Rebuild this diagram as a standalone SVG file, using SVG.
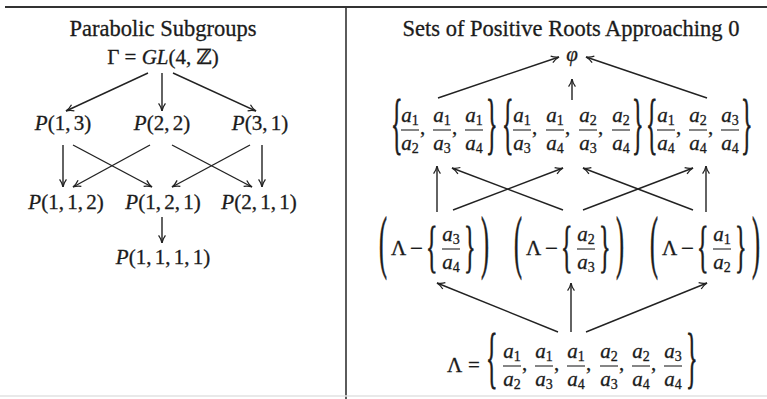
<svg xmlns="http://www.w3.org/2000/svg" width="767" height="399" viewBox="0 0 767 399">
<style>
text{font-family:"Liberation Serif","DejaVu Serif",serif;fill:#1b1b1b;font-size:21px;stroke:#1b1b1b;stroke-width:0.3}
.ttl{font-size:22.5px;text-anchor:middle}
.c{text-anchor:middle}
.m{word-spacing:-2px}
.i{font-style:italic}
.s{font-size:14px;font-style:normal}
.br{font-size:24px}
.mn{font-size:23px}
.fr line{stroke:#222;stroke-width:1.1}
.fr text{text-anchor:middle}
.edge{stroke:#222;stroke-width:1.4;fill:none;marker-end:url(#ah)}
.rule{stroke:#333;fill:none}
</style>
<defs>
<marker id="ah" markerUnits="userSpaceOnUse" viewBox="0 0 10 10" refX="9.5" refY="5" markerWidth="9" markerHeight="9" orient="auto">
<path d="M1,1.2 Q5,4.2 9.5,5 Q5,5.8 1,8.8" fill="none" stroke="#222" stroke-width="1.4"/>
</marker>
</defs>
<rect width="767" height="399" fill="#fff"/>
<g id="frame">
<line class="rule" x1="5" y1="7" x2="767" y2="7" stroke-width="2"/>
<line class="rule" x1="346" y1="7" x2="346" y2="399" stroke-width="1.6"/>
<line x1="0" y1="396" x2="767" y2="396" stroke="#e2e2e2" stroke-width="1.5"/>
</g>
<g id="titles">
<text class="ttl" x="163" y="36">Parabolic Subgroups</text>
<text class="ttl" x="571" y="36">Sets of Positive Roots Approaching 0</text>
</g>
<g id="connectors">
<line class="edge" x1="148" y1="73" x2="66" y2="111"/>
<line class="edge" x1="162" y1="73" x2="162" y2="111"/>
<line class="edge" x1="173" y1="73" x2="256" y2="111"/>
<line class="edge" x1="63" y1="145" x2="63" y2="187"/>
<line class="edge" x1="73" y1="145" x2="152" y2="187"/>
<line class="edge" x1="150" y1="145" x2="73" y2="187"/>
<line class="edge" x1="172" y1="145" x2="252" y2="187"/>
<line class="edge" x1="250" y1="145" x2="172" y2="187"/>
<line class="edge" x1="262" y1="145" x2="262" y2="187"/>
<line class="edge" x1="162" y1="217" x2="162" y2="243"/>
<line class="edge" x1="438" y1="98" x2="559" y2="57"/>
<line class="edge" x1="572" y1="100" x2="572" y2="79"/>
<line class="edge" x1="707" y1="98" x2="586" y2="57"/>
<line class="edge" x1="437" y1="212" x2="437" y2="166"/>
<line class="edge" x1="453" y1="210" x2="563" y2="168"/>
<line class="edge" x1="563" y1="210" x2="452" y2="168"/>
<line class="edge" x1="583" y1="210" x2="693" y2="168"/>
<line class="edge" x1="693" y1="210" x2="583" y2="168"/>
<line class="edge" x1="706" y1="212" x2="706" y2="166"/>
<line class="edge" x1="558" y1="332" x2="437" y2="283"/>
<line class="edge" x1="571" y1="332" x2="571" y2="283"/>
<line class="edge" x1="586" y1="332" x2="707" y2="283"/>
</g>
<g id="gamma"><text class="c" x="163" y="64">Γ = <tspan class="i">GL</tspan>(4, ℤ)</text></g>
<g id="p13"><text class="c m" x="63" y="130"><tspan class="i">P</tspan>(1, 3)</text></g>
<g id="p22"><text class="c m" x="162" y="130"><tspan class="i">P</tspan>(2, 2)</text></g>
<g id="p31"><text class="c m" x="260" y="130"><tspan class="i">P</tspan>(3, 1)</text></g>
<g id="p112"><text class="c m" x="66" y="209"><tspan class="i">P</tspan>(1, 1, 2)</text></g>
<g id="p121"><text class="c m" x="163" y="209"><tspan class="i">P</tspan>(1, 2, 1)</text></g>
<g id="p211"><text class="c m" x="259" y="209"><tspan class="i">P</tspan>(2, 1, 1)</text></g>
<g id="p1111"><text class="c m" x="163" y="264"><tspan class="i">P</tspan>(1, 1, 1, 1)</text></g>

<g id="phi"><text class="c i" x="572" y="61">φ</text></g>

<g id="set1">
<text class="br" transform="translate(391,146) scale(1,2.8)">{</text>
<g class="fr" transform="translate(410,130)"><line x1="-9" x2="9" y1="0" y2="0"/><text y="-8"><tspan class="i">a</tspan><tspan class="s" dy="3">1</tspan></text><text y="20"><tspan class="i">a</tspan><tspan class="s" dy="3">2</tspan></text></g>
<text x="420" y="134">,</text>
<g class="fr" transform="translate(442,130)"><line x1="-9" x2="9" y1="0" y2="0"/><text y="-8"><tspan class="i">a</tspan><tspan class="s" dy="3">1</tspan></text><text y="20"><tspan class="i">a</tspan><tspan class="s" dy="3">3</tspan></text></g>
<text x="452" y="134">,</text>
<g class="fr" transform="translate(474,130)"><line x1="-9" x2="9" y1="0" y2="0"/><text y="-8"><tspan class="i">a</tspan><tspan class="s" dy="3">1</tspan></text><text y="20"><tspan class="i">a</tspan><tspan class="s" dy="3">4</tspan></text></g>
<text class="br" transform="translate(486,146) scale(1,2.8)">}</text>
</g>

<g id="set2">
<text class="br" transform="translate(502,146) scale(1,2.8)">{</text>
<g class="fr" transform="translate(522,130)"><line x1="-9" x2="9" y1="0" y2="0"/><text y="-8"><tspan class="i">a</tspan><tspan class="s" dy="3">1</tspan></text><text y="20"><tspan class="i">a</tspan><tspan class="s" dy="3">3</tspan></text></g>
<text x="532" y="134">,</text>
<g class="fr" transform="translate(555,130)"><line x1="-9" x2="9" y1="0" y2="0"/><text y="-8"><tspan class="i">a</tspan><tspan class="s" dy="3">1</tspan></text><text y="20"><tspan class="i">a</tspan><tspan class="s" dy="3">4</tspan></text></g>
<text x="565" y="134">,</text>
<g class="fr" transform="translate(588,130)"><line x1="-9" x2="9" y1="0" y2="0"/><text y="-8"><tspan class="i">a</tspan><tspan class="s" dy="3">2</tspan></text><text y="20"><tspan class="i">a</tspan><tspan class="s" dy="3">3</tspan></text></g>
<text x="598" y="134">,</text>
<g class="fr" transform="translate(621,130)"><line x1="-9" x2="9" y1="0" y2="0"/><text y="-8"><tspan class="i">a</tspan><tspan class="s" dy="3">2</tspan></text><text y="20"><tspan class="i">a</tspan><tspan class="s" dy="3">4</tspan></text></g>
<text class="br" transform="translate(632,146) scale(1,2.8)">}</text>
</g>

<g id="set3">
<text class="br" transform="translate(646,146) scale(1,2.8)">{</text>
<g class="fr" transform="translate(666,130)"><line x1="-9" x2="9" y1="0" y2="0"/><text y="-8"><tspan class="i">a</tspan><tspan class="s" dy="3">1</tspan></text><text y="20"><tspan class="i">a</tspan><tspan class="s" dy="3">4</tspan></text></g>
<text x="676" y="134">,</text>
<g class="fr" transform="translate(698,130)"><line x1="-9" x2="9" y1="0" y2="0"/><text y="-8"><tspan class="i">a</tspan><tspan class="s" dy="3">2</tspan></text><text y="20"><tspan class="i">a</tspan><tspan class="s" dy="3">4</tspan></text></g>
<text x="708" y="134">,</text>
<g class="fr" transform="translate(730,130)"><line x1="-9" x2="9" y1="0" y2="0"/><text y="-8"><tspan class="i">a</tspan><tspan class="s" dy="3">3</tspan></text><text y="20"><tspan class="i">a</tspan><tspan class="s" dy="3">4</tspan></text></g>
<text class="br" transform="translate(741,146) scale(1,2.8)">}</text>
</g>

<g id="mid1">
<text class="br" transform="translate(379,265) scale(1,2.9)">(</text>
<text x="391" y="255">Λ</text>
<text class="mn" x="410" y="256">−</text>
<text class="br" transform="translate(426,266) scale(1,2.4)">{</text>
<g class="fr" transform="translate(451,249)"><line x1="-9" x2="9" y1="0" y2="0"/><text y="-8"><tspan class="i">a</tspan><tspan class="s" dy="3">3</tspan></text><text y="20"><tspan class="i">a</tspan><tspan class="s" dy="3">4</tspan></text></g>
<text class="br" transform="translate(464,266) scale(1,2.4)">}</text>
<text class="br" transform="translate(481,265) scale(1,2.9)">)</text>
</g>

<g id="mid2">
<text class="br" transform="translate(514,265) scale(1,2.9)">(</text>
<text x="526" y="255">Λ</text>
<text class="mn" x="545" y="256">−</text>
<text class="br" transform="translate(561,266) scale(1,2.4)">{</text>
<g class="fr" transform="translate(586,249)"><line x1="-9" x2="9" y1="0" y2="0"/><text y="-8"><tspan class="i">a</tspan><tspan class="s" dy="3">2</tspan></text><text y="20"><tspan class="i">a</tspan><tspan class="s" dy="3">3</tspan></text></g>
<text class="br" transform="translate(599,266) scale(1,2.4)">}</text>
<text class="br" transform="translate(616,265) scale(1,2.9)">)</text>
</g>

<g id="mid3">
<text class="br" transform="translate(650,265) scale(1,2.9)">(</text>
<text x="662" y="255">Λ</text>
<text class="mn" x="681" y="256">−</text>
<text class="br" transform="translate(697,266) scale(1,2.4)">{</text>
<g class="fr" transform="translate(722,249)"><line x1="-9" x2="9" y1="0" y2="0"/><text y="-8"><tspan class="i">a</tspan><tspan class="s" dy="3">1</tspan></text><text y="20"><tspan class="i">a</tspan><tspan class="s" dy="3">2</tspan></text></g>
<text class="br" transform="translate(735,266) scale(1,2.4)">}</text>
<text class="br" transform="translate(752,265) scale(1,2.9)">)</text>
</g>

<g id="lambda">
<text x="447" y="372">Λ</text>
<text x="468" y="372">=</text>
<text class="br" transform="translate(486,380) scale(1,2.8)">{</text>
<g class="fr" transform="translate(512,366)"><line x1="-9" x2="9" y1="0" y2="0"/><text y="-8"><tspan class="i">a</tspan><tspan class="s" dy="3">1</tspan></text><text y="20"><tspan class="i">a</tspan><tspan class="s" dy="3">2</tspan></text></g>
<text x="522" y="370">,</text>
<g class="fr" transform="translate(544,366)"><line x1="-9" x2="9" y1="0" y2="0"/><text y="-8"><tspan class="i">a</tspan><tspan class="s" dy="3">1</tspan></text><text y="20"><tspan class="i">a</tspan><tspan class="s" dy="3">3</tspan></text></g>
<text x="554" y="370">,</text>
<g class="fr" transform="translate(576,366)"><line x1="-9" x2="9" y1="0" y2="0"/><text y="-8"><tspan class="i">a</tspan><tspan class="s" dy="3">1</tspan></text><text y="20"><tspan class="i">a</tspan><tspan class="s" dy="3">4</tspan></text></g>
<text x="586" y="370">,</text>
<g class="fr" transform="translate(609,366)"><line x1="-9" x2="9" y1="0" y2="0"/><text y="-8"><tspan class="i">a</tspan><tspan class="s" dy="3">2</tspan></text><text y="20"><tspan class="i">a</tspan><tspan class="s" dy="3">3</tspan></text></g>
<text x="619" y="370">,</text>
<g class="fr" transform="translate(641,366)"><line x1="-9" x2="9" y1="0" y2="0"/><text y="-8"><tspan class="i">a</tspan><tspan class="s" dy="3">2</tspan></text><text y="20"><tspan class="i">a</tspan><tspan class="s" dy="3">4</tspan></text></g>
<text x="651" y="370">,</text>
<g class="fr" transform="translate(673,366)"><line x1="-9" x2="9" y1="0" y2="0"/><text y="-8"><tspan class="i">a</tspan><tspan class="s" dy="3">3</tspan></text><text y="20"><tspan class="i">a</tspan><tspan class="s" dy="3">4</tspan></text></g>
<text class="br" transform="translate(686,380) scale(1,2.8)">}</text>
</g>
</svg>
